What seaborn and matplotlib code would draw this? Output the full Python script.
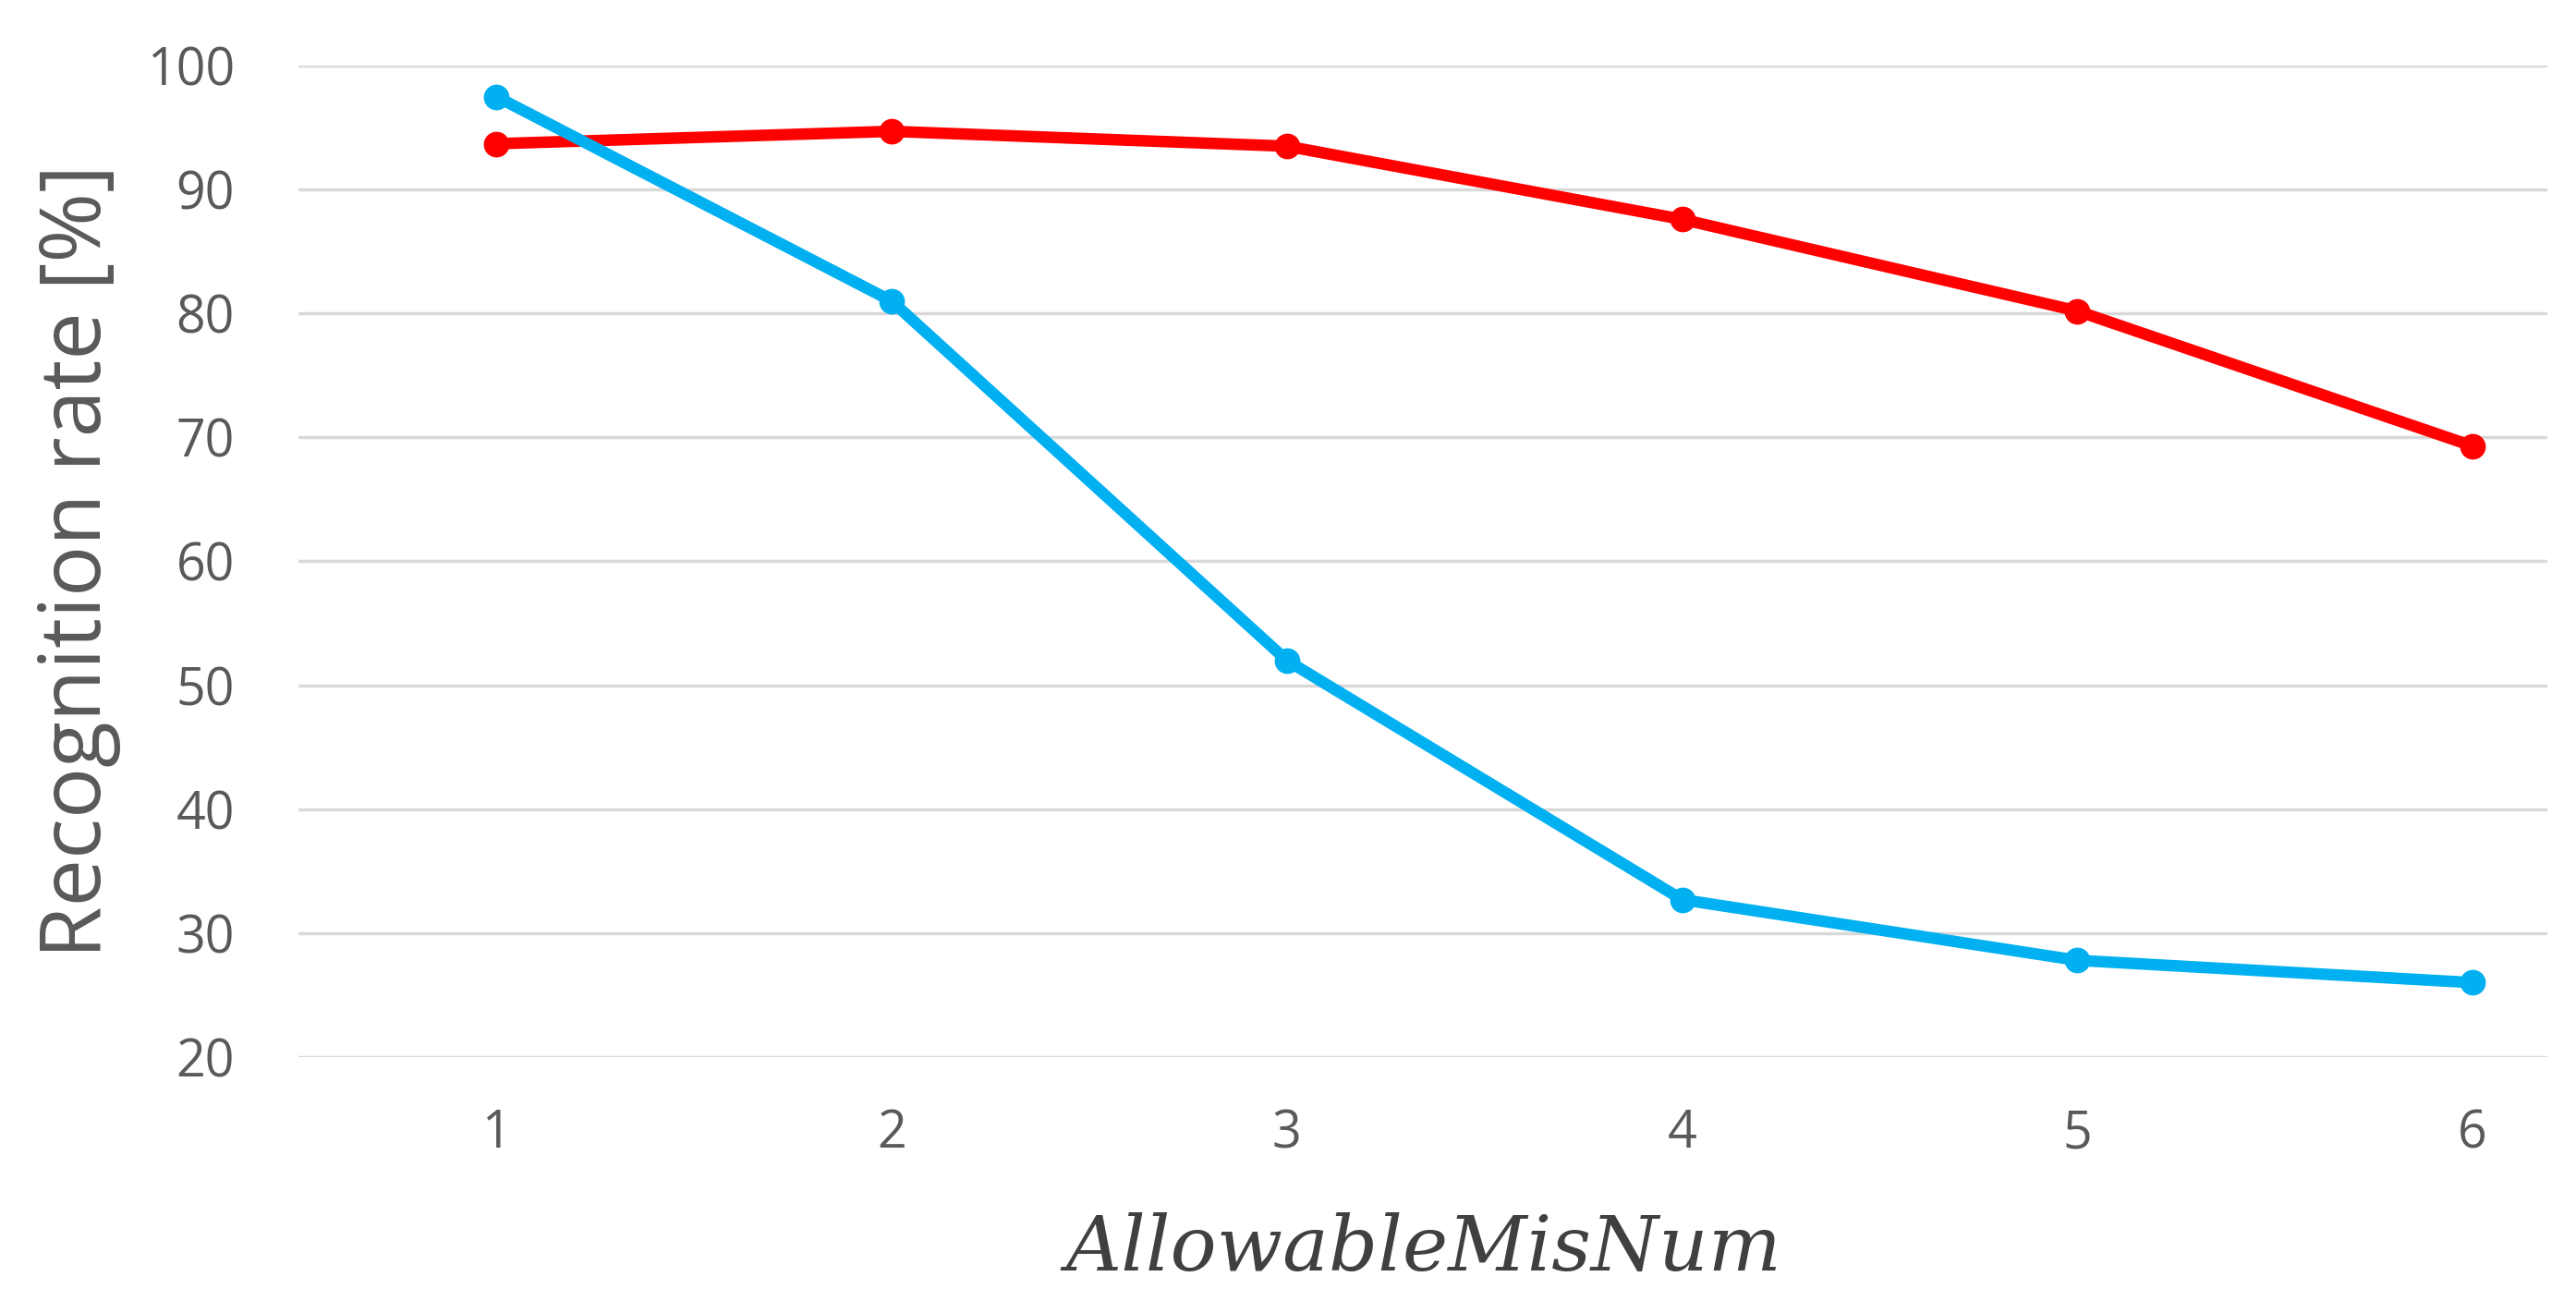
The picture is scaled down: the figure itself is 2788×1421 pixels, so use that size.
import matplotlib
matplotlib.use("Agg")
import matplotlib.pyplot as plt
import seaborn as sns
import pandas as pd

x_vals = [1, 2, 3, 4, 5, 6]
red_vals = [93.7, 94.7, 93.5, 87.6, 80.2, 69.3]
blue_vals = [97.5, 81.0, 52.0, 32.7, 27.8, 26.0]
y_ticks = [20, 30, 40, 50, 60, 70, 80, 90, 100]

sns.set_theme(style="white")
plt.rcParams['font.family'] = ['Open Sans', 'DejaVu Sans']

fig = plt.figure(figsize=(27.88, 14.21), dpi=100)
ax = fig.add_axes([0.116, 0.195, 0.873, 0.755])

df = pd.DataFrame({"x": x_vals * 2, "y": red_vals + blue_vals,
                   "s": ["red"] * 6 + ["blue"] * 6})
sns.lineplot(data=df, x="x", y="y", hue="s", palette={"red": "#FF0000", "blue": "#00B0F0"},
             marker="o", markersize=20, markeredgewidth=0, linewidth=9, ax=ax, legend=False)

ax.set_xlim(0.5, 6.19)
ax.set_ylim(20, 100)
ax.set_yticks(y_ticks)
ax.set_xticks(x_vals)
ax.yaxis.grid(True, color="#D9D9D9", linewidth=2.5)
ax.set_axisbelow(True)
for s in ax.spines.values():
    s.set_visible(False)
ax.tick_params(axis="both", labelsize=40, colors="#595959", length=0)
ax.tick_params(axis="x", pad=40)
ax.tick_params(axis="y", pad=50)
ax.set_ylabel("Recognition rate [%]", fontsize=66, color="#595959", labelpad=20)
ax.set_xlabel("AllowableMisNum", fontsize=60, color="#404040", style="italic",
              family=["DejaVu Serif"], labelpad=40)

fig.savefig("out.png", dpi=100)
